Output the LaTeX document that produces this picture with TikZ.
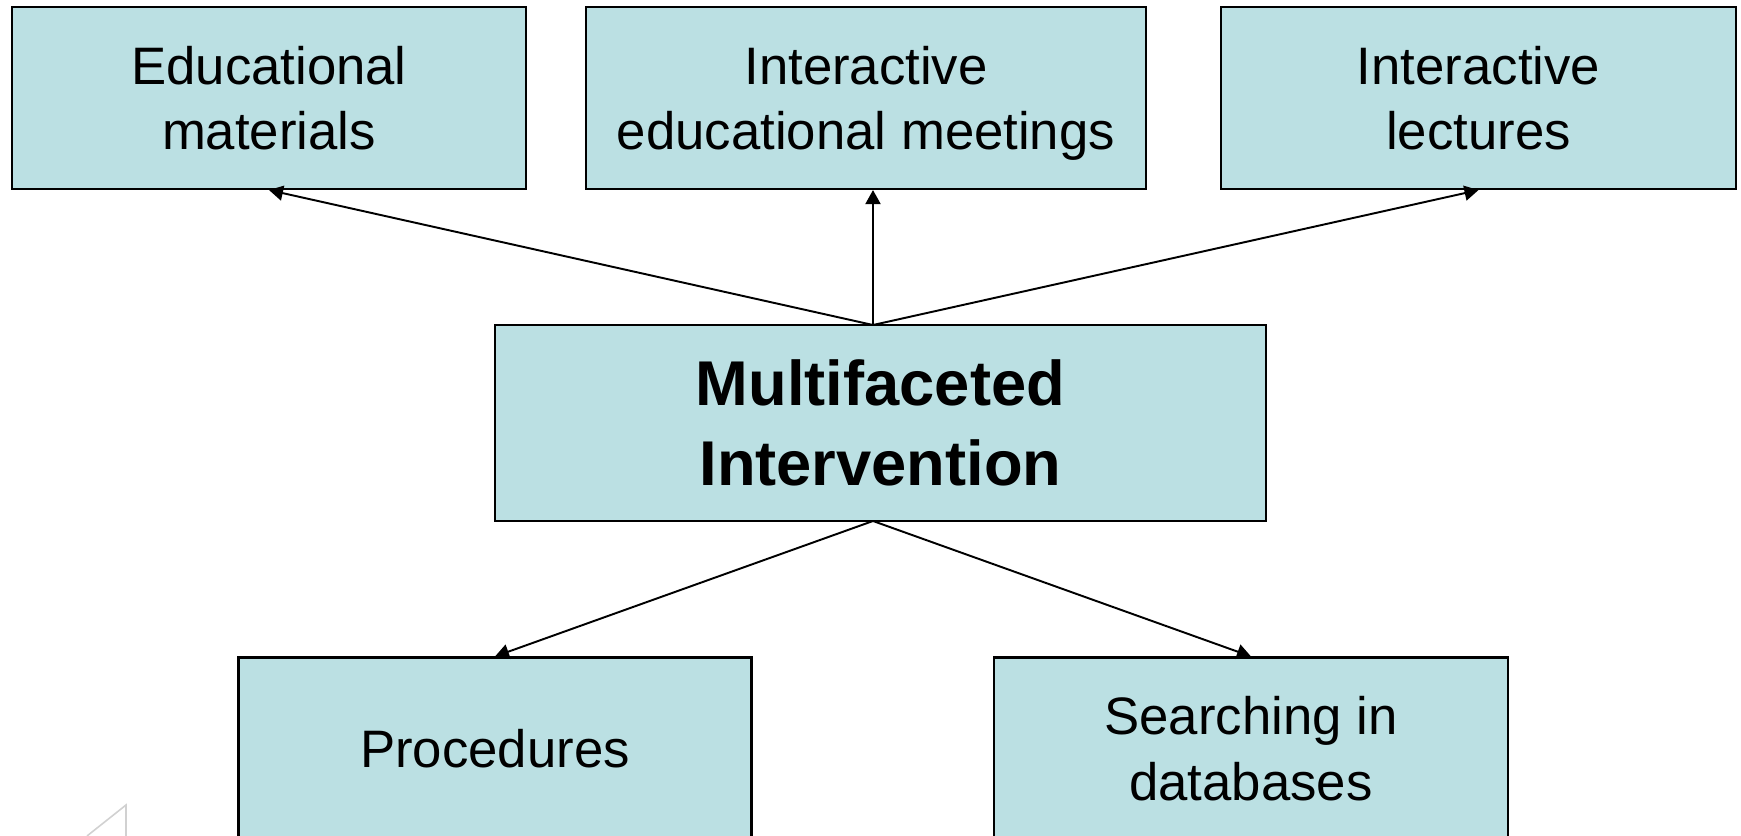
\documentclass[tikz,border=0pt]{standalone}
\usepackage{fontspec}
\setmainfont{Liberation Sans}
\usetikzlibrary{arrows.meta}
\definecolor{boxblue}{RGB}{187,224,227}

\begin{document}
\begin{tikzpicture}[x=0.1mm,y=-0.1mm,
    box/.style={draw,fill=boxblue,line width=0.6pt,align=center,inner sep=0pt,
      minimum height=18.2mm,text depth=-3.2pt,font=\fontsize{15}{18.6}\selectfont},
    link/.style={line width=0.55pt,-{Triangle[length=1.4mm,width=1.5mm]}}]
  \useasboundingbox (0,0) rectangle (1741,836);
  \node[box,minimum width=51.4mm] (mat) at (269,98) {Educational\\materials};
  \node[box,minimum width=56mm] (meet) at (866,98) {Interactive\\educational meetings};
  \node[box,minimum width=51.5mm] (lect) at (1478.5,98) {Interactive\\lectures};
  \node[box,minimum width=77.1mm,minimum height=19.6mm,text depth=-4.6pt,
    font=\fontsize{18}{22.8}\selectfont\bfseries] (multi) at (880.5,423) {Multifaceted\\Intervention};
  \node[box,minimum width=51.3mm] (proc) at (495,748.5) {Procedures};
  \node[box,minimum width=51.4mm] (search) at (1251,748.5) {Searching in\\databases};
  \coordinate (top) at (873,325);
  \coordinate (bot) at (873,521);
  \draw[link] (top) -- (mat.south);
  \draw[link] (top) -- (meet.south -| top);
  \draw[link] (top) -- (lect.south);
  \draw[link] (bot) -- (proc.north);
  \draw[link] (bot) -- (search.north);
  \draw[black!18,line width=0.45pt] (87,836) -- (126,805) -- (126,836);
\end{tikzpicture}
\end{document}
